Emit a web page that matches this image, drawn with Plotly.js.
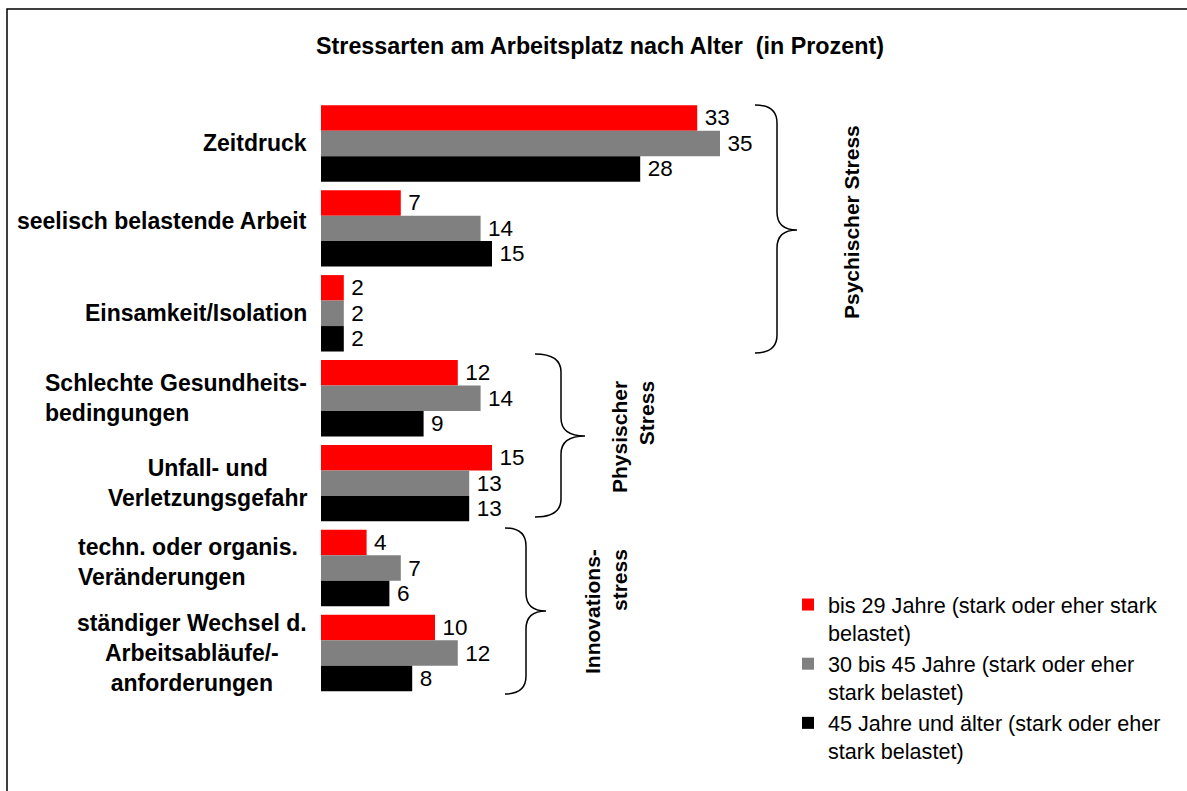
<!DOCTYPE html>
<html>
<head>
<meta charset="utf-8">
<script src="https://cdn.plot.ly/plotly-3.0.1.min.js"></script>
<style>html,body{margin:0;padding:0;background:#fff;}#chart{width:1187px;height:791px;}</style>
</head>
<body>
<div id="chart"></div>
<script>
// ---- data ----
var categories = [
  "Zeitdruck",
  "seelisch belastende Arbeit",
  "Einsamkeit/Isolation",
  "Schlechte Gesundheits-<br>bedingungen",
  "Unfall- und<br>Verletzungsgefahr",
  "techn. oder organis.<br>Veränderungen",
  "ständiger Wechsel d.<br>Arbeitsabläufe/-<br>anforderungen"
];
var seriesNames = [
  "bis 29 Jahre (stark oder eher stark<br>belastet)",
  "30 bis 45 Jahre (stark oder eher<br>stark belastet)",
  "45 Jahre und älter (stark oder eher<br>stark belastet)"
];
var valuesUnder30 = [33, 7, 2, 12, 15, 4, 10];
var values30to45 = [35, 14, 2, 14, 13, 7, 12];
var values45plus = [28, 15, 2, 9, 13, 6, 8];
var labelAlign = ["right", "right", "right", "left", "center", "left", "center"];
var groupNames = ["Psychischer Stress", "Physischer<br>Stress", "Innovations-<br>stress"];

// ---- layout helpers ----
var W = 1187, H = 791;
var M = {l: 321, r: 410, t: 101, b: 93};
var PW = W - M.l - M.r, PH = H - M.t - M.b;
function px(x) { return (x - M.l) / PW; }
function py(y) { return (H - M.b - y) / PH; }
function P(x, y) { return px(x) + "," + py(y); }
function brace(x0, xv, xp, yt, ym, yb, r) {
  return "M" + P(x0, yt) +
    " Q" + P(xv, yt) + " " + P(xv, yt + r) +
    " L" + P(xv, ym - r) +
    " Q" + P(xv, ym) + " " + P(xp, ym) +
    " Q" + P(xv, ym) + " " + P(xv, ym + r) +
    " L" + P(xv, yb - r) +
    " Q" + P(xv, yb) + " " + P(x0, yb);
}

var FONT = "Liberation Sans, Arial, Helvetica, sans-serif";
var colors = ["#ff0000", "#808080", "#000000"];
var seriesVals = [valuesUnder30, values30to45, values45plus];

var traces = seriesVals.map(function (v, i) {
  return {
    type: "bar",
    orientation: "h",
    name: seriesNames[i],
    y: categories,
    x: v,
    texttemplate: "\u2009%{x}",
    textposition: "outside",
    cliponaxis: false,
    constraintext: "none",
    textfont: {family: FONT, size: 22.5, color: "#000"},
    marker: {color: colors[i], line: {width: 0}},
    hoverinfo: "none"
  };
});

var annotations = categories.map(function (c, i) {
  var ys = {1: -7, 5: -6};
  return {
    xref: "paper", yref: "y",
    x: px(i === 5 ? 300 : 309), y: c,
    xanchor: "right", yanchor: "middle",
    yshift: ys[i] ? -ys[i] : 0,
    text: "<b>" + c + "</b>",
    align: labelAlign[i],
    showarrow: false,
    font: {family: FONT, size: 23, color: "#000"}
  };
});

// group labels
annotations.push({xref: "paper", yref: "paper", x: px(851), y: py(222), xanchor: "center", yanchor: "middle",
  text: "<b>" + groupNames[0] + "</b>", textangle: -90, showarrow: false, align: "right",
  font: {family: FONT, size: 21, color: "#000"}});
annotations.push({xref: "paper", yref: "paper", x: px(633), y: py(437), xanchor: "center", yanchor: "middle",
  text: "<b>" + groupNames[1] + "</b>", textangle: -90, showarrow: false, align: "right",
  font: {family: FONT, size: 21, color: "#000"}});
annotations.push({xref: "paper", yref: "paper", x: px(606), y: py(612), xanchor: "center", yanchor: "middle",
  text: "<b>" + groupNames[2] + "</b>", textangle: -90, showarrow: false, align: "right",
  font: {family: FONT, size: 21, color: "#000"}});

var shapes = [
  {type: "rect", xref: "paper", yref: "paper", x0: px(7), x1: px(1300), y0: py(9), y1: py(900),
   line: {color: "#000", width: 1.5}, fillcolor: "rgba(0,0,0,0)"},
  {type: "path", xref: "paper", yref: "paper", path: brace(755, 777, 797, 105, 230, 353, 18),
   line: {color: "#000", width: 1.5}},
  {type: "path", xref: "paper", yref: "paper", path: brace(535, 561, 585, 354, 436, 517, 18),
   line: {color: "#000", width: 1.5}},
  {type: "path", xref: "paper", yref: "paper", path: brace(505, 526, 546, 528, 611, 694, 18),
   line: {color: "#000", width: 1.5}}
];

var layout = {
  width: W, height: H,
  margin: M,
  paper_bgcolor: "#fff", plot_bgcolor: "#fff",
  font: {family: FONT, color: "#000"},
  title: {
    text: "<b>Stressarten am Arbeitsplatz nach Alter  (in Prozent)</b>",
    font: {family: FONT, size: 23.3, color: "#000"},
    xref: "container", yref: "container",
    x: 600 / W, y: 1 - 46 / H, xanchor: "center", yanchor: "middle"
  },
  barmode: "group",
  bargap: 0.1,
  bargroupgap: 0,
  xaxis: {range: [0, 40], visible: false, fixedrange: true},
  yaxis: {type: "category", autorange: "reversed", showticklabels: false, showgrid: false,
          zeroline: false, showline: false, ticks: "", fixedrange: true},
  showlegend: true,
  legend: {
    x: px(788), y: py(584), xanchor: "left", yanchor: "top",
    traceorder: "normal", valign: "top",
    font: {family: FONT, size: 21.6, color: "#000"},
    bgcolor: "rgba(0,0,0,0)", borderwidth: 0
  },
  annotations: annotations,
  shapes: shapes
};

Plotly.newPlot("chart", traces, layout, {staticPlot: true, displayModeBar: false});
</script>
</body>
</html>
